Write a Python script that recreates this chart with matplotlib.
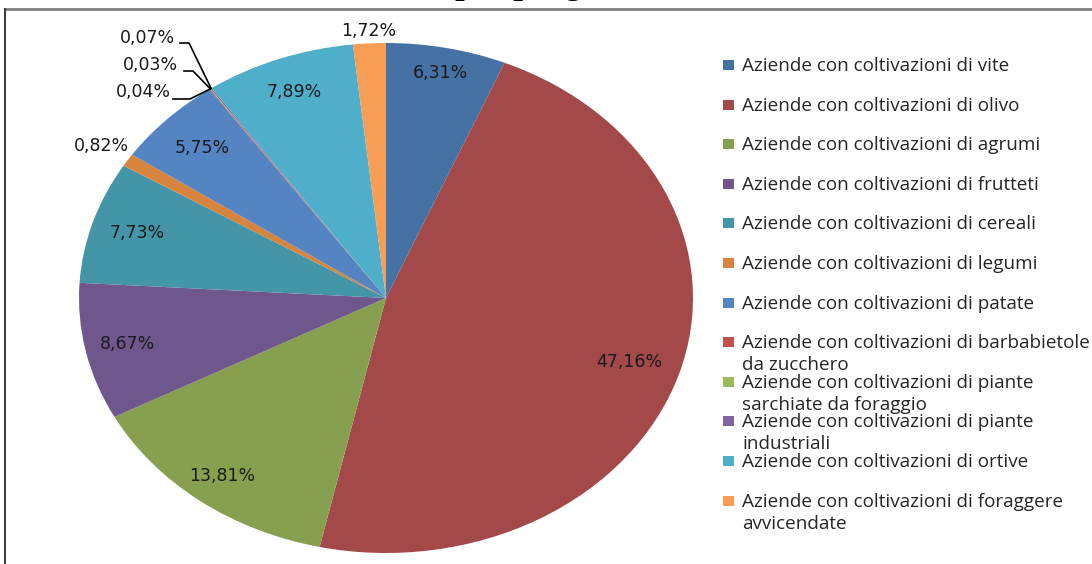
import matplotlib.pyplot as plt
from matplotlib.lines import Line2D
from matplotlib.patches import Rectangle
import numpy as np

categorie = [
    "Aziende con coltivazioni di vite",
    "Aziende con coltivazioni di olivo",
    "Aziende con coltivazioni di agrumi",
    "Aziende con coltivazioni di frutteti",
    "Aziende con coltivazioni di cereali",
    "Aziende con coltivazioni di legumi",
    "Aziende con coltivazioni di patate",
    "Aziende con coltivazioni di barbabietole\nda zucchero",
    "Aziende con coltivazioni di piante\nsarchiate da foraggio",
    "Aziende con coltivazioni di piante\nindustriali",
    "Aziende con coltivazioni di ortive",
    "Aziende con coltivazioni di foraggere\navvicendate",
]
percentuali = [6.31, 47.16, 13.81, 8.67, 7.73, 0.82, 5.75, 0.04, 0.03, 0.07, 7.89, 1.72]
colori = ['#4571A5', '#A3494A', '#87A04F', '#6F568C', '#4395A7', '#D6843E',
          '#5584C2', '#C4504E', '#9BBB59', '#8064A2', '#4FAEC9', '#F79D56']

W, H = 1092, 564
fig = plt.figure(figsize=(W / 100, H / 100), dpi=100)

# torta ellittica: asse allungato in orizzontale
cx, cy, rx, ry = 386, 298, 307, 255
ax = fig.add_axes([(cx - rx) / W, (H - cy - ry) / H, 2 * rx / W, 2 * ry / H])
wedges, _ = ax.pie(percentuali, colors=colori, startangle=90, counterclock=False,
                   wedgeprops=dict(linewidth=0))
ax.set_aspect('auto')
ax.set_xlim(-1, 1)
ax.set_ylim(-1, 1)
ax.axis('off')


def px2data(px, py):
    return (px - cx) / rx, (cy - py) / ry


def fmt(v):
    return f"{v:.2f}%".replace('.', ',')


# distanza delle etichette dal centro (None = etichetta con linea guida)
dist = [0.90, 0.83, 0.88, 0.86, 0.85, 1.10, 0.84, None, None, None, 0.86, 1.05]
# posizioni (pixel) delle etichette con linea guida
guida = {7: (171, 92, 173, 190, 99), 8: (178, 65, 184, 193, 71), 9: (175, 38, 180, 189, 43)}

lab_font = dict(family='DejaVu Sans', fontsize=12.5, color='#1a1a1a')
for i, (w, v) in enumerate(zip(wedges, percentuali)):
    mid = np.deg2rad((w.theta1 + w.theta2) / 2)
    if dist[i] is not None:
        r = dist[i]
        ax.text(r * np.cos(mid), r * np.sin(mid), fmt(v), ha='center', va='center',
                clip_on=False, **lab_font)
    else:
        tx, ty, l0, l1, ly = guida[i]
        x, y = px2data(tx, ty)
        ax.text(x, y, fmt(v), ha='right', va='center', clip_on=False, **lab_font)
        xa, ya = px2data(l0, ly)
        xb, yb = px2data(l1, ly)
        ax.add_line(Line2D([xa, xb, np.cos(mid)], [ya, yb, np.sin(mid)],
                           color='black', lw=1.2, clip_on=False))

# legenda disegnata a mano con passo fisso, una riga alla volta
leg_x, leg_y0, passo, interlinea = 723, 65, 39.6, 22
for i, (nome, col) in enumerate(zip(categorie, colori)):
    y = leg_y0 + i * passo
    fig.patches.append(Rectangle(((leg_x) / W, (H - y - 5) / H), 11 / W, 10 / H,
                                 transform=fig.transFigure, facecolor=col, edgecolor='none'))
    for k, riga in enumerate(nome.split('\n')):
        fig.text((leg_x + 19) / W, (H - y - 6 - k * interlinea) / H, riga,
                 ha='left', va='baseline', family='Open Sans', fontsize=13.6,
                 color='#262626')

# cornice del grafico
fig.add_artist(Line2D([5 / W, 1.01], [(H - 9) / H, (H - 9) / H], transform=fig.transFigure,
                      color='#7f7f7f', lw=2))
fig.add_artist(Line2D([5 / W, 5 / W], [-0.01, (H - 9) / H], transform=fig.transFigure,
                      color='#3f3f3f', lw=1.5))

# titolo, quasi tutto fuori dal bordo superiore
fig.text(455 / W, (H + 7) / H, "per progetto", ha='left', va='baseline',
         family='Liberation Serif', fontsize=25, fontweight='bold')

fig.savefig('out.png', dpi=100)
